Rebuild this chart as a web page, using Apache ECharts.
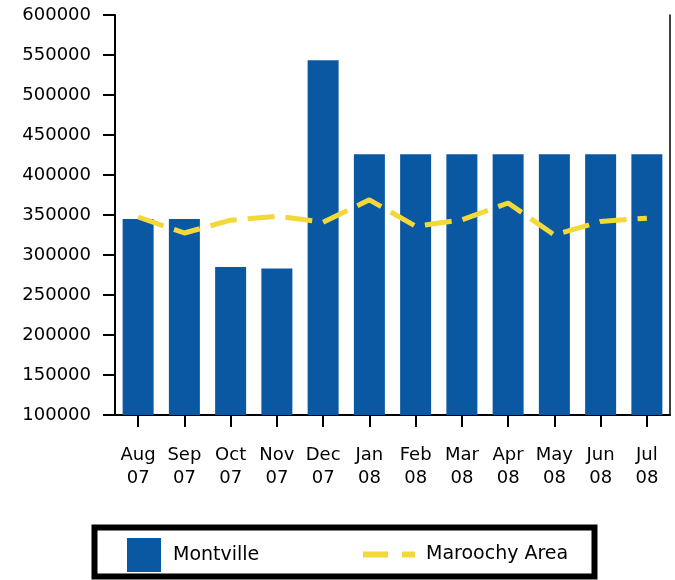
<!DOCTYPE html>
<html>
<head>
<meta charset="utf-8">
<title>Montville vs Maroochy Area</title>
<script src="https://cdn.jsdelivr.net/npm/echarts@6/dist/echarts.min.js"></script>
<style>
  html, body { margin: 0; padding: 0; background: #fff; }
  #container { width: 675px; height: 580px; }
</style>
</head>
<body>
<div id="container"></div>
<script>
// data
var months = ['Aug\n07', 'Sep\n07', 'Oct\n07', 'Nov\n07', 'Dec\n07', 'Jan\n08',
              'Feb\n08', 'Mar\n08', 'Apr\n08', 'May\n08', 'Jun\n08', 'Jul\n08'];
var montville = [345000, 345000, 285000, 283000, 543500, 426000,
                 426000, 426000, 426000, 426000, 426000, 426000];
var maroochy = [347500, 327500, 343500, 348500, 341000, 369000,
                336000, 344000, 365000, 325000, 342000, 346000];
var yTicks = { min: 100000, max: 600000, step: 50000 };

var blue = '#0b58a2';
var yellow = '#f3d83a';
var font = 'DejaVu Sans';

var myChart = echarts.init(document.getElementById('container'));
var option = {
    backgroundColor: '#fff',
    animation: false,
    grid: { left: 115, right: 5, top: 15, bottom: 165, containLabel: false },
    xAxis: [{
        type: 'category',
        data: months,
        axisLine: { lineStyle: { color: '#000', width: 2 } },
        axisTick: { show: true, length: 12, alignWithLabel: true, lineStyle: { color: '#000', width: 2 } },
        axisLabel: {
            color: '#000', fontFamily: font, fontSize: 18, lineHeight: 23,
            margin: 29, interval: 0
        }
    }],
    yAxis: [{
        type: 'value',
        min: yTicks.min, max: yTicks.max, interval: yTicks.step,
        splitLine: { show: false },
        axisLine: { show: true, lineStyle: { color: '#000', width: 2 } },
        axisTick: { show: true, length: 12, lineStyle: { color: '#000', width: 2 } },
        axisLabel: {
            color: '#000', fontFamily: font, fontSize: 18, margin: 24,
            formatter: function (v) { return String(v); }
        }
    }, {
        type: 'value', position: 'right',
        min: yTicks.min, max: yTicks.max, interval: yTicks.step,
        splitLine: { show: false },
        axisLine: { show: true, lineStyle: { color: '#000', width: 1.5 } },
        axisTick: { show: false },
        axisLabel: { show: false }
    }],
    legend: [{
        data: [{ name: 'Montville', icon: 'rect' }],
        left: 127, top: 538, padding: 0,
        itemWidth: 34, itemHeight: 34,
        textStyle: { color: '#000', fontFamily: font, fontSize: 19, padding: [0, 0, 0, 7] },
        selectedMode: false
    }, {
        data: [{ name: 'Maroochy Area', icon: 'path://M0,0h25v6h-25z M39,0h13v6h-13z' }],
        left: 363, top: 545, padding: 0,
        itemWidth: 52, itemHeight: 6,
        itemStyle: { color: yellow },
        textStyle: { color: '#000', fontFamily: font, fontSize: 19, padding: [0, 0, 0, 6] },
        selectedMode: false
    }],
    graphic: [{
        type: 'rect',
        shape: { x: 94.5, y: 527.5, width: 500, height: 49 },
        style: { fill: 'none', stroke: '#000', lineWidth: 6 },
        silent: true
    }],
    series: [{
        name: 'Montville',
        type: 'bar',
        data: montville,
        barWidth: 31,
        itemStyle: { color: blue }
    }, {
        name: 'Maroochy Area',
        type: 'line',
        data: maroochy,
        showSymbol: false,
        symbol: 'none',
        itemStyle: { color: yellow },
        lineStyle: { color: yellow, width: 5, type: [27, 11], cap: 'butt' },
        z: 3
    }]
};
myChart.setOption(option);
</script>
</body>
</html>
